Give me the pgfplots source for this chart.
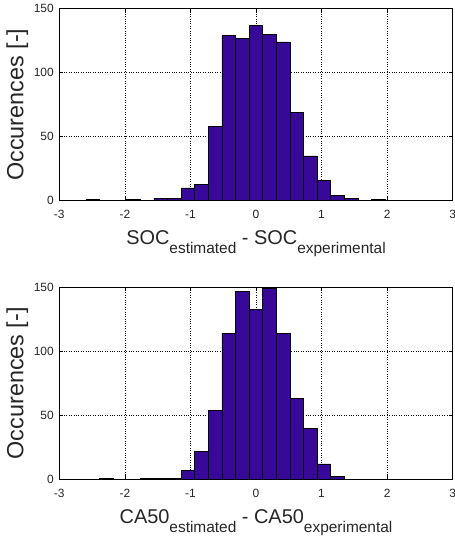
\documentclass[border=0pt]{standalone}
\usepackage{fontspec}
\setmainfont{Liberation Sans}
\usepackage{pgfplots}
\usepackage{pgfplotstable}
\pgfplotsset{compat=1.18}
\definecolor{barfill}{RGB}{56,8,152}

% left bin edges (bin width 0.2075) and counts
\pgfplotstableread{
left count
-2.59375 1
-2.38625 0
-2.17875 0
-1.97125 1
-1.76375 0
-1.55625 2
-1.34875 2
-1.14125 10
-0.93375 13
-0.72625 58
-0.51875 129
-0.31125 127
-0.10375 137
0.10375 130
0.31125 124
0.51875 69
0.72625 35
0.93375 16
1.14125 4
1.34875 2
1.55625 0
1.76375 1
1.97125 0
}\socdata

\pgfplotstableread{
left count
-2.38625 1
-2.17875 0
-1.97125 0
-1.76375 1
-1.55625 1
-1.34875 1
-1.14125 7
-0.93375 22
-0.72625 54
-0.51875 114
-0.31125 147
-0.10375 133
0.10375 149
0.31125 114
0.51875 63
0.72625 40
0.93375 12
1.14125 2
1.34875 0
}\cadata

\pgfplotsset{histax/.style={
  scale only axis, width=393.4bp, height=192bp, anchor=south west,
  xmin=-3, xmax=3, ymin=0, ymax=150,
  xtick={-3,-2,-1,0,1,2,3}, xticklabels={-3,-2,-1,0,1,2,3},
  ytick={0,50,100,150}, yticklabels={0,50,100,150},
  tick align=inside, major tick length=4bp,
  grid=major, grid style={dotted, black, line width=0.5bp},
  axis line style={black, line width=0.6bp},
  tick style={black, line width=0.5bp},
  tick label style={font=\fontsize{12}{14}\selectfont, text=black!85},
  xticklabel style={yshift=-6bp},
  yticklabel style={xshift=-2bp},
  label style={text=black!85},
  xlabel style={font=\fontsize{20}{24}\selectfont, at={(axis description cs:0.5,0)}, anchor=base, yshift=-44bp},
  ylabel style={font=\fontsize{23.5}{27}\selectfont, at={(axis description cs:0,0.5)}, anchor=center, yshift=42bp},
  ylabel={Occurences [-]},
}}
\newcommand{\sub}[1]{\raisebox{-9bp}{\fontsize{15.5}{16}\selectfont #1}}

\begin{document}
\begin{tikzpicture}
\path[use as bounding box] (0,0) rectangle (455bp,541bp);
\begin{axis}[histax, at={(59.3bp,340.3bp)},
  xlabel={SOC\sub{estimated} - SOC\sub{experimental}}]
\addplot[ybar interval, fill=barfill, draw=black, line width=0.7bp] table[x=left, y=count] {\socdata};
\end{axis}
\begin{axis}[histax, at={(59.3bp,61.7bp)},
  xlabel={CA50\sub{estimated} - CA50\sub{experimental}}]
\addplot[ybar interval, fill=barfill, draw=black, line width=0.7bp] table[x=left, y=count] {\cadata};
\end{axis}
\end{tikzpicture}
\end{document}
